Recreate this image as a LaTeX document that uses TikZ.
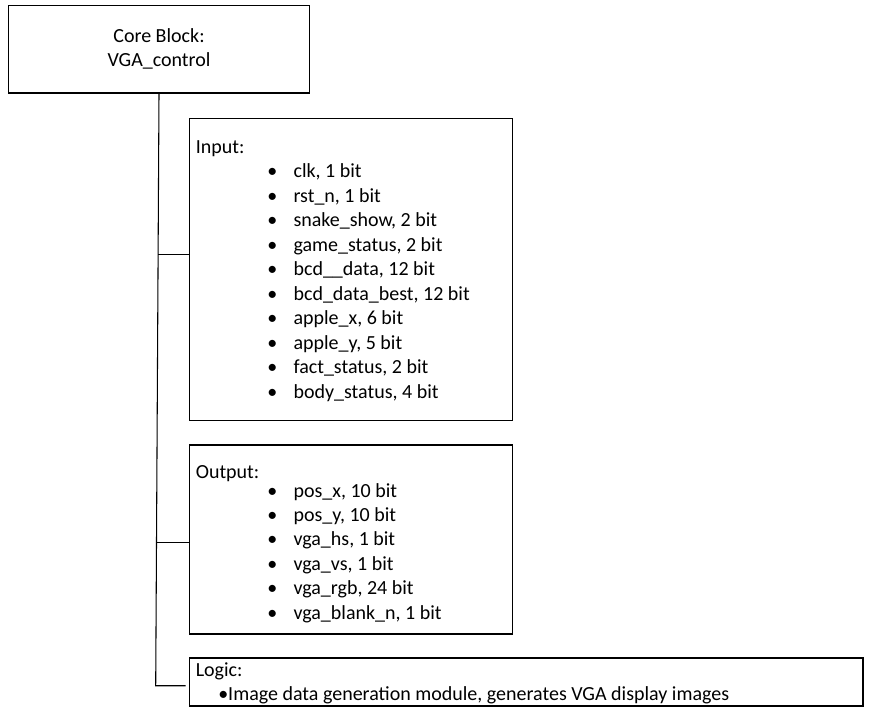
\documentclass[tikz,border=0pt]{standalone}
\usepackage{fontspec}
\setmainfont{Carlito}
\usetikzlibrary{calc}
\begin{document}
\begin{tikzpicture}[x=0.75pt,y=-0.75pt,
  font=\fontsize{15}{18}\selectfont,
  blockbox/.style={draw,line width=0.8pt,inner sep=0pt},
  txt/.style={anchor=base west,inner sep=0pt},
  dot/.style={anchor=base,inner sep=0pt},
  link/.style={line width=0.8pt}]
\useasboundingbox (0,0) rectangle (880,715);
\node (core) [blockbox,minimum width=226pt,minimum height=65.5pt,align=center] at (159,49.3) {Core Block:\\VGA\_control};
\node (inbox) [blockbox,minimum width=242pt,minimum height=227pt] at (351,269.4) {};
\node (outbox) [blockbox,minimum width=242pt,minimum height=141.75pt] at (351,539.5) {};
\node (lgc) [blockbox,minimum width=505pt,minimum height=36pt] at (526.3,682) {};
% input list
\node (inT) [txt] at (195.5,153) {Input:};
\foreach \t [count=\k] in {{clk, 1 bit},{rst\_n, 1 bit},{snake\_show, 2 bit},{game\_status, 2 bit},
  {bcd\_\_data, 12 bit},{bcd\_data\_best, 12 bit},{apple\_x, 6 bit},{apple\_y, 5 bit},
  {fact\_status, 2 bit},{body\_status, 4 bit}}{
  \node (inD\k) [dot] at (272.3,{177.7+24.5*(\k-1)}) {•};
  \node (in\k) [txt] at (293.3,{177.7+24.5*(\k-1)}) {\t};
}
% output list
\node (outT) [txt] at (195.5,478) {Output:};
\foreach \t [count=\k] in {{pos\_x, 10 bit},{pos\_y, 10 bit},{vga\_hs, 1 bit},{vga\_vs, 1 bit},
  {vga\_rgb, 24 bit},{vga\_blank\_n, 1 bit}}{
  \node (outD\k) [dot] at (272.3,{497+24.4*(\k-1)}) {•};
  \node (out\k) [txt] at (293.3,{497+24.4*(\k-1)}) {\t};
}
% logic
\node (lgcT) [txt] at (195.5,676) {Logic:};
\node (lgc1) [txt] at (218,700) {•Image data generation module, generates VGA display images};
% tree lines
\coordinate (tend) at (155.7,685.7);
\coordinate (tin) at ($(core.south)!0.2715!(tend)$);
\coordinate (tout) at ($(core.south)!0.7589!(tend)$);
\coordinate (tlgc) at ($(lgc.west|-tend)+(-3.5,0)$);
\draw[link] (core.south) -- (tend) -- (tlgc);
\draw[link] (tin) -- (tin-|inbox.west);
\draw[link] (tout) -- (tout-|outbox.west);
\end{tikzpicture}
\end{document}
